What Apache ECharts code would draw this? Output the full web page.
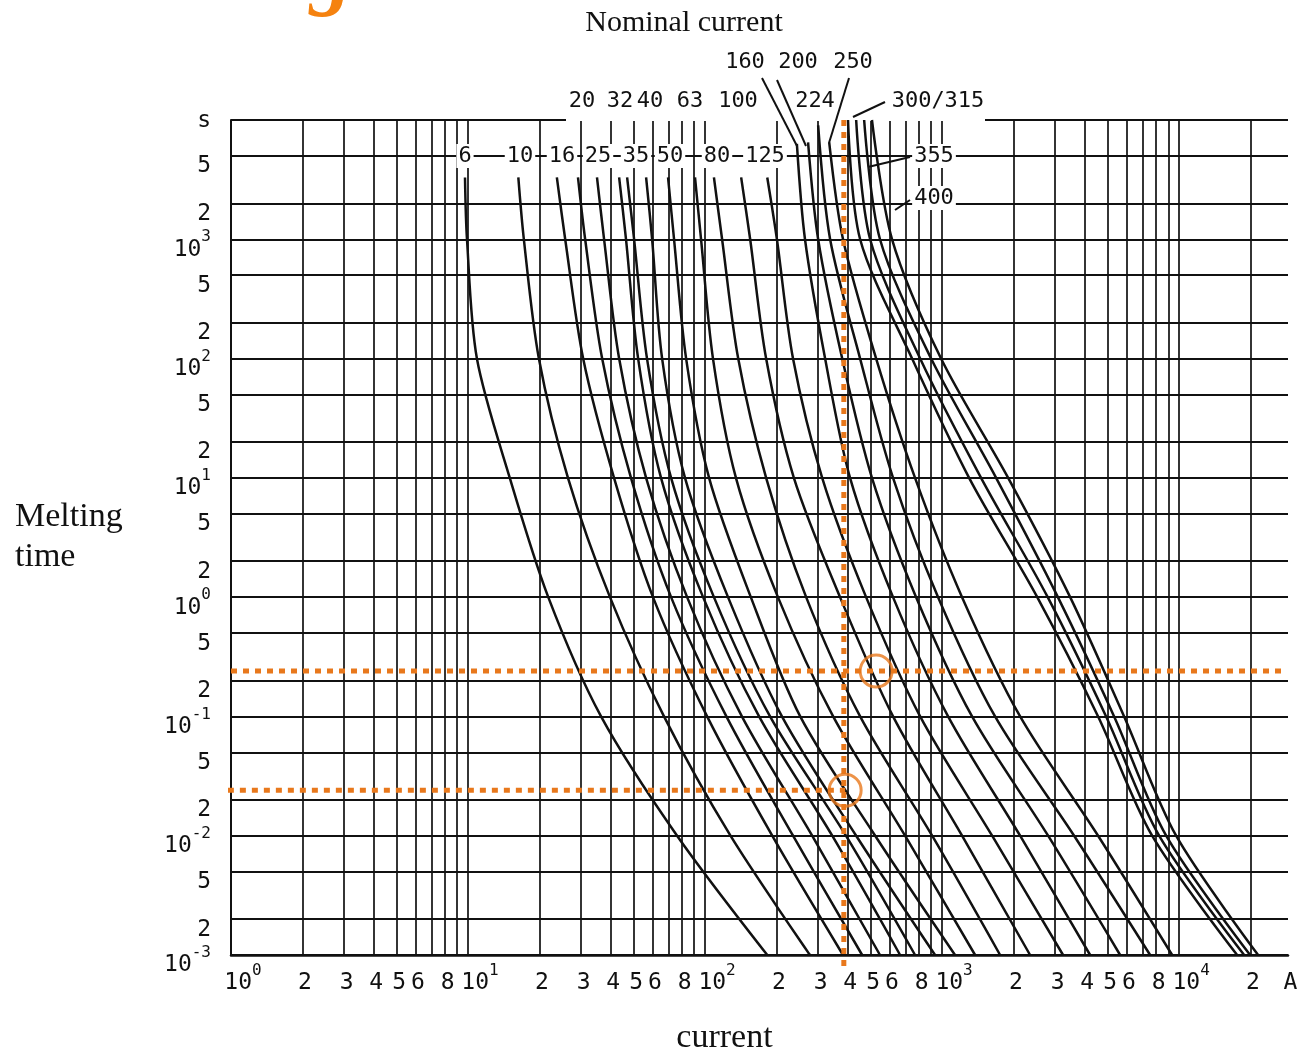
<!DOCTYPE html>
<html lang="en">
<head>
<meta charset="UTF-8">
<title>Fuse melting time</title>
<script src="https://cdn.jsdelivr.net/npm/echarts@6/dist/echarts.min.js"></script>
<style>
  html, body { margin: 0; padding: 0; background: #fff; }
  #main { width: 1311px; height: 1051px; }
</style>
</head>
<body>
<div id="main"></div>
<script>
// nominal current of every fuse curve (A)
const ratings = ['6', '10', '16', '20', '25', '32', '35', '40', '50', '63', '80',
  '100', '125', '160', '200', '224', '250', '300', '315', '355', '400'];

// where each curve begins at the top: time (s) and current (A)
const startTimes = [3300, 3300, 3300, 3300, 3300, 3300, 3300, 3300, 3300, 3300, 3300,
  3300, 3300, 6300, 6500, 9000, 6500, 10000, 10000, 10000, 10000];
const startCurrents = [9.71, 16.3, 23.7, 29.1, 35.0, 43.4, 46.9, 56.4, 69.8, 90.7, 109,
  142, 183, 244, 272, 300, 334, 401, 434, 469, 506];

// melting current (A) read at these times (s)
const levelTimes = [1000, 100, 10, 1, 0.1, 0.01, 0.001];
const meltCurrents = [
  [9.90, 10.9, 15.0, 21.8, 36.4, 76.2, 183],
  [17.2, 19.9, 26.4, 39.7, 67.1, 128, 277],
  [25.7, 30.6, 41.3, 60.3, 102, 192, 382],
  [31.2, 36.8, 48.7, 71.9, 123, 235, 460],
  [37.5, 43.4, 56.4, 84.0, 143, 283, 547],
  [46.4, 52.2, 65.2, 98.1, 169, 344, 665],
  [50.2, 56.9, 71.9, 109, 188, 393, 769],
  [59.8, 65.9, 82.3, 125, 211, 434, 934],
  [74.0, 83.2, 104, 156, 252, 522, 1134],
  [96.2, 108, 135, 203, 347, 698, 1378],
  [118, 138, 181, 267, 451, 908, 1757],
  [155, 181, 237, 371, 621, 1214, 2351],
  [201, 235, 312, 478, 808, 1626, 3239],
  [264, 321, 409, 621, 1060, 2134, 4212],
  [300, 379, 506, 777, 1338, 2801, 5638],
  [337, 451, 621, 962, 1673, 3606, 7546],
  [382, 527, 769, 1214, 2134, 4552, 9344],
  [451, 747, 1300, 2520, 4552, 7693, 17570],
  [497, 808, 1460, 2790, 4920, 8234, 18810],
  [547, 899, 1690, 3080, 5318, 8816, 19930],
  [615, 990, 1900, 3470, 5860, 9712, 21540]
];

// orange reading aids: [current A, time s]
const guideVertical = [[385, 10000], [385, 0.00072]];
const guideHigh = [[1, 0.24], [28000, 0.24]];
const guideLow = [[0.97, 0.024], [390, 0.024]];
const circlePoints = [[527, 0.24], [390, 0.024]];

// axis grid and label values
const currentMax = 28800;
const xGrid = [1, 2, 3, 4, 5, 6, 7, 8, 9, 10, 20, 30, 40, 50, 60, 70, 80, 90,
  100, 200, 300, 400, 500, 600, 700, 800, 900, 1000, 2000, 3000, 4000, 5000, 6000,
  7000, 8000, 9000, 10000, 20000];
const xLabels = [1, 2, 3, 4, 5, 6, 8, 10, 20, 30, 40, 50, 60, 80, 100, 200, 300, 400,
  500, 600, 800, 1000, 2000, 3000, 4000, 5000, 6000, 8000, 10000, 20000, currentMax];
const yGrid = [0.001, 0.002, 0.005, 0.01, 0.02, 0.05, 0.1, 0.2, 0.5, 1, 2, 5, 10, 20,
  50, 100, 200, 500, 1000, 2000, 5000, 10000];

const ink = '#111';
const orange = '#E8781C';
const mono = '"DejaVu Sans Mono", monospace';
const serif = '"Liberation Serif", "DejaVu Serif", serif';

function toLog(p) { return [Math.log10(p[0]), Math.log10(p[1])]; }

function splitPow(v) {
  const e = Math.floor(v + 1e-6);
  const m = Math.round(Math.pow(10, v - e));
  return { e: e, m: m };
}

const chart = echarts.init(document.getElementById('main'));

const curveSeries = ratings.map(function (r, i) {
  const pts = [[startCurrents[i], startTimes[i]]];
  levelTimes.forEach(function (t, j) { pts.push([meltCurrents[i][j], t]); });
  return {
    name: r + ' A',
    type: 'line',
    smooth: 0.3,
    showSymbol: false,
    silent: true,
    z: 3,
    lineStyle: { color: ink, width: 2.5 },
    data: pts.map(toLog)
  };
});

function guide(pts) {
  return {
    type: 'line',
    clip: false,
    showSymbol: false,
    silent: true,
    z: 6,
    lineStyle: { color: orange, width: 5, type: [6, 6] },
    data: pts.map(toLog)
  };
}

const labelNum = { fontFamily: mono, fontSize: 23, color: ink, lineHeight: 32, verticalAlign: 'bottom' };
const labelSup = { fontFamily: mono, fontSize: 16, color: ink, lineHeight: 14, verticalAlign: 'top' };

const option = {
  animation: false,
  backgroundColor: '#fff',
  grid: { left: 231, right: 23, top: 120, bottom: 96, outerBoundsMode: 'none' },
  xAxis: {
    type: 'value',
    min: 0,
    max: Math.log10(currentMax),
    axisLine: { show: true, onZero: false, lineStyle: { color: ink, width: 2.5 } },
    axisTick: { show: false, customValues: xGrid.map(Math.log10) },
    splitLine: { show: true, lineStyle: { color: ink, width: 1.7 } },
    axisLabel: {
      customValues: xLabels.map(Math.log10),
      margin: 8,
      showMinLabel: true,
      formatter: function (v) {
        if (v > 4.4) return '{b|A}';
        const p = splitPow(v);
        if (p.m === 1) return '{p|10}{s|' + p.e + '}';
        return '{b|' + p.m + '}';
      },
      rich: {
        b: Object.assign({}, labelNum, { padding: [0, 0, 0, 5] }),
        p: Object.assign({}, labelNum, { padding: [0, 0, 0, 24] }),
        s: labelSup
      }
    },
    name: 'current',
    nameLocation: 'middle',
    nameGap: 66,
    nameTextStyle: { fontFamily: serif, fontSize: 34, color: ink, padding: [0, 70, 0, 0] }
  },
  yAxis: {
    type: 'value',
    min: -3,
    max: 4,
    axisLine: { show: true, onZero: false, lineStyle: { color: ink, width: 2 } },
    axisTick: { show: false, customValues: yGrid.map(Math.log10) },
    splitLine: { show: true, lineStyle: { color: ink, width: 2.2 } },
    axisLabel: {
      customValues: yGrid.map(Math.log10),
      margin: 20,
      padding: [12, 0, 0, 0],
      showMinLabel: true,
      showMaxLabel: true,
      formatter: function (v) {
        if (v > 3.99) return '{u|s}';
        const p = splitPow(v);
        if (p.m === 1) return '{b|10}{s|' + p.e + '}';
        return '{b|' + p.m + '}';
      },
      rich: {
        b: labelNum,
        s: labelSup,
        u: Object.assign({}, labelNum, { verticalAlign: 'top', padding: [0, 0, 14, 0] })
      }
    },
    name: 'Melting\ntime',
    nameLocation: 'middle',
    nameRotate: 0,
    nameGap: 216,
    nameTextStyle: { fontFamily: serif, fontSize: 34, lineHeight: 40, color: ink, align: 'left', padding: [6, 0, 0, 0] }
  },
  graphic: {
    elements: [
      // gap in the top frame line behind the upper labels
      { type: 'rect', z: 1, shape: { x: 566, y: 113, width: 419, height: 8 }, style: { fill: '#fff' } },
      { type: 'text', x: 352, y: 19.5, z: 10,
        style: { text: 'Fuse testing', align: 'right', verticalAlign: 'bottom',
          font: 'italic bold 84px "Liberation Serif", serif', fill: '#F5820F' } },
      { type: 'text', x: 684, y: 23, z: 10,
        style: { text: 'Nominal current', align: 'center', verticalAlign: 'middle',
          font: '30px "Liberation Serif", serif', fill: ink } }
    ]
  },
  series: curveSeries.concat([
    guide(guideVertical),
    guide(guideHigh),
    guide(guideLow),
    {
      type: 'scatter',
      silent: true,
      z: 7,
      symbol: 'circle',
      symbolSize: 32,
      clip: false,
      itemStyle: { color: 'rgba(0,0,0,0)', borderColor: orange, borderWidth: 3 },
      data: circlePoints.map(toLog)
    }
  ])
};

// curve name tags at the top, with their leader strokes
const tags = [
  ['6', 465, 156], ['10', 520, 156], ['16', 562, 156], ['25', 598, 156], ['35', 636, 156],
  ['50', 670, 156], ['80', 717, 156], ['125', 765, 156],
  ['20', 582, 101], ['32', 620, 101], ['40', 650, 101], ['63', 690, 101], ['100', 738, 101],
  ['224', 815, 101], ['300/315', 938, 101],
  ['160', 745, 62], ['200', 798, 62], ['250', 853, 62],
  ['355', 934, 156], ['400', 934, 198]
];
tags.forEach(function (t) {
  option.graphic.elements.push({
    type: 'text', x: t[1], y: t[2], z: 10,
    style: { text: t[0], align: 'center', verticalAlign: 'middle',
      font: '22px ' + mono, fill: ink, backgroundColor: '#fff', padding: [1, 2] }
  });
});
const leaders = [
  [762, 78, 797, 146], [777, 80, 806, 146], [849, 78, 829, 143],
  [885, 102, 853, 117], [910, 157, 868, 167], [910, 200, 895, 210]
];
leaders.forEach(function (l) {
  option.graphic.elements.push({
    type: 'line', z: 10,
    shape: { x1: l[0], y1: l[1], x2: l[2], y2: l[3] },
    style: { stroke: ink, lineWidth: 2 }
  });
});

chart.setOption(option);
</script>
</body>
</html>
